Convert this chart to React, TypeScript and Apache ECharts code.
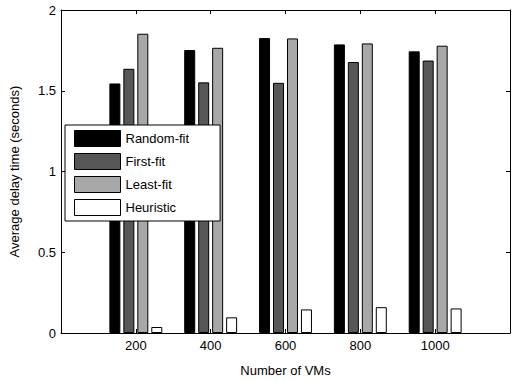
import React, { useEffect, useRef } from "react";
import * as echarts from "echarts";

const categories = ["200", "400", "600", "800", "1000"];
const seriesNames = ["Random-fit", "First-fit", "Least-fit", "Heuristic"];
const randomFit = [1.545, 1.752, 1.826, 1.787, 1.744];
const firstFit = [1.636, 1.552, 1.549, 1.678, 1.687];
const leastFit = [1.853, 1.766, 1.824, 1.793, 1.779];
const heuristic = [0.037, 0.097, 0.146, 0.16, 0.152];
const yTicks = [0, 0.5, 1, 1.5, 2];
const colors = ["#000000", "#575757", "#a8a8a8", "#ffffff"];

const FONT = "'Liberation Sans', Arial, Helvetica, sans-serif";

export default function App() {
  const ref = useRef<HTMLDivElement>(null);
  useEffect(() => {
    if (!ref.current) return;
    const chart = echarts.init(ref.current, undefined, { renderer: "svg" });
    const allSeries = [randomFit, firstFit, leastFit, heuristic];
    const xFmt = (v: number) => {
      const i = Math.round(v) - 1;
      return i >= 0 && i < categories.length ? categories[i] : "";
    };
    const yFmt = (v: number) => (yTicks.includes(v) ? String(v) : "");
    const tickStyle = { show: true, inside: true, length: 4, lineStyle: { color: "#000", width: 1 } };
    const lineStyle = { show: true, onZero: false, lineStyle: { color: "#000", width: 1 } };
    chart.setOption({
      animation: false,
      backgroundColor: "#ffffff",
      textStyle: { fontFamily: FONT },
      grid: { left: 58, right: -4, top: 10, bottom: 48 },
      legend: {
        orient: "vertical",
        left: 65,
        top: 125,
        padding: [5, 31, 5, 9],
        itemWidth: 46,
        itemHeight: 16,
        itemGap: 6,
        backgroundColor: "#ffffff",
        borderColor: "#000",
        borderWidth: 1,
        borderRadius: 0,
        icon: "rect",
        itemStyle: { borderColor: "#000", borderWidth: 1 },
        textStyle: { fontSize: 13, color: "#000", fontFamily: FONT },
        data: seriesNames,
      },
      xAxis: [
        {
          type: "value",
          min: 0,
          max: 6,
          interval: 1,
          position: "bottom",
          name: "Number of VMs",
          nameLocation: "middle",
          nameGap: 31,
          nameTextStyle: { fontSize: 13, color: "#000", fontFamily: FONT },
          axisLine: lineStyle,
          axisTick: tickStyle,
          axisLabel: { formatter: xFmt, fontSize: 13, color: "#000", margin: 6, fontFamily: FONT },
          splitLine: { show: false },
        },
        {
          type: "value",
          min: 0,
          max: 6,
          interval: 1,
          position: "top",
          axisLine: lineStyle,
          axisTick: tickStyle,
          axisLabel: { show: false },
          splitLine: { show: false },
        },
      ],
      yAxis: [
        {
          type: "value",
          min: 0,
          max: 2,
          interval: 0.5,
          position: "left",
          name: "Average delay time (seconds)",
          nameLocation: "middle",
          nameGap: 40,
          nameTextStyle: { fontSize: 13, color: "#000", fontFamily: FONT },
          axisLine: lineStyle,
          axisTick: tickStyle,
          axisLabel: { formatter: yFmt, fontSize: 13, color: "#000", margin: 5, fontFamily: FONT },
          splitLine: { show: false },
        },
        {
          type: "value",
          min: 0,
          max: 2,
          interval: 0.5,
          position: "right",
          axisLine: lineStyle,
          axisTick: tickStyle,
          axisLabel: { show: false },
          splitLine: { show: false },
        },
      ],
      series: seriesNames.map((name, si) => ({
        name,
        type: "bar",
        xAxisIndex: 0,
        yAxisIndex: 0,
        barWidth: 11,
        barGap: "27%",
        itemStyle: { color: colors[si], borderColor: "#000", borderWidth: 1 },
        data: allSeries[si].map((v, i) => [i + 1, v]),
      })),
    });
    return () => chart.dispose();
  }, []);
  return (
    <div
      ref={ref}
      style={{ position: "fixed", left: 0, top: 0, width: 513, height: 382, background: "#fff" }}
    />
  );
}
